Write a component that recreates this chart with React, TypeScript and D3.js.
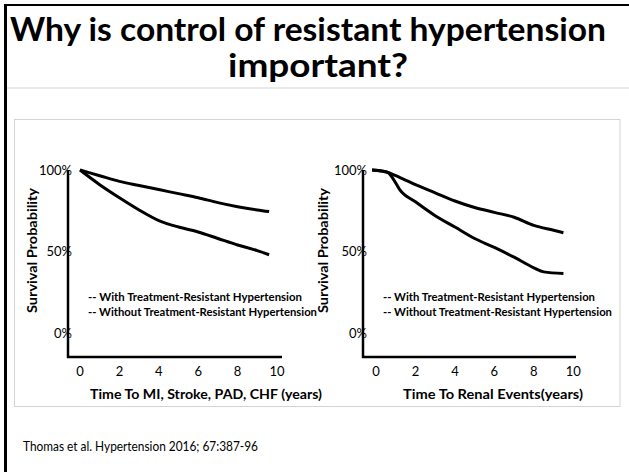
import React from "react";
import * as d3 from "d3";

const W = 629;
const H = 472;

// Data
const xTicks = [0, 2, 4, 6, 8, 10];
const yTicks = [0, 50, 100];

const leftYearsWithout = [0, 1, 2, 3, 4, 5, 6, 7, 8, 9, 9.6];
const leftWithout = [100, 96.5, 93, 90.5, 88, 85.5, 83, 80, 77.5, 75.5, 74.5];
const leftYearsWith = [0, 1, 2, 3, 4, 5, 6, 7, 8, 9, 9.6];
const leftWith = [100, 91, 83, 75.5, 69, 65, 62, 58, 54, 50.5, 48];

const rightYearsWithout = [-0.2, 0.5, 1, 2, 3, 4, 5, 6, 7, 8, 9, 9.5];
const rightWithout = [100, 99, 96.5, 91, 86, 81, 77, 74, 71, 66, 63, 61.5];
const rightYearsWith = [-0.2, 0.6, 0.9, 1.2, 2, 3, 4, 5, 6, 7, 8, 8.5, 9.5];
const rightWith = [100, 98.5, 94, 88, 80.5, 72, 65, 58, 52.5, 46.5, 40, 37.5, 36.5];

const legendLabels = [
  "-- With Treatment-Resistant Hypertension",
  "-- Without Treatment-Resistant Hypertension",
];
const yLabel = "Survival Probability";
const titleLines = ["Why is control of resistant hypertension", "important?"];
const citation = "Thomas et al. Hypertension 2016; 67:387-96";

const FONT = "Lato, 'Open Sans', sans-serif";

type PanelProps = {
  axisX: number;
  x0: number;
  x10: number;
  axisRight: number;
  series: { years: number[]; values: number[] }[];
  yLabelX: number;
  legendX: number;
  legendWidths: number[];
  xTitle: string;
  xTitleX: number;
  xTitleW: number;
};

function Panel(p: PanelProps) {
  const x = d3.scaleLinear().domain([0, 10]).range([p.x0, p.x10]);
  const y = d3.scaleLinear().domain([0, 100]).range([333, 170]);
  const axisTop = 170;
  const axisBottom = 357;
  const line = d3
    .line<[number, number]>()
    .x((d) => x(d[0]))
    .y((d) => y(d[1]))
    .curve(d3.curveMonotoneX);
  return (
    <g>
      {p.series.map((s, i) => (
        <path
          key={i}
          d={line(s.years.map((yr, j) => [yr, s.values[j]]) as [number, number][]) || ""}
          fill="none"
          stroke="#000"
          strokeWidth={3}
          strokeLinecap="butt"
        />
      ))}
      <line x1={p.axisX} x2={p.axisX} y1={axisTop} y2={axisBottom + 1} stroke="#000" strokeWidth={2.5} />
      <line x1={p.axisX - 1} x2={p.axisRight} y1={axisBottom} y2={axisBottom} stroke="#000" strokeWidth={2.5} />
      {yTicks.map((t) => (
        <text
          key={t}
          x={p.axisX + 4}
          y={y(t)}
          dy="0.35em"
          textAnchor="end"
          fontSize={13}
          fontFamily={FONT}
          fill="#000"
        >
          {t + "%"}
        </text>
      ))}
      {xTicks.map((t) => (
        <text
          key={t}
          x={x(t)}
          y={371}
          dy="0.35em"
          textAnchor="middle"
          fontSize={13}
          fontFamily={FONT}
          fill="#000"
        >
          {t}
        </text>
      ))}
      <text
        transform={`translate(${p.yLabelX},${250.5}) rotate(-90)`}
        textAnchor="middle"
        dy="0.35em"
        fontSize={13}
        fontWeight="bold"
        fontFamily={FONT}
        textLength={125}
        lengthAdjust="spacingAndGlyphs"
        fill="#000"
      >
        {yLabel}
      </text>
      {legendLabels.map((l, i) => (
        <text
          key={l}
          x={p.legendX}
          y={297 + i * 15.5}
          dy="0.35em"
          fontSize={10.5}
          fontWeight="bold"
          fontFamily={FONT}
          textLength={p.legendWidths[i]}
          lengthAdjust="spacingAndGlyphs"
          fill="#000"
        >
          {l}
        </text>
      ))}
      <text
        x={p.xTitleX}
        y={395}
        dy="0.35em"
        fontSize={12.5}
        fontWeight="bold"
        fontFamily={FONT}
        textLength={p.xTitleW}
        lengthAdjust="spacingAndGlyphs"
        fill="#000"
      >
        {p.xTitle}
      </text>
    </g>
  );
}

export default function App() {
  return (
    <svg
      width={W}
      height={H}
      viewBox={`0 0 ${W} ${H}`}
      style={{ position: "absolute", left: 0, top: 0, background: "#fff" }}
    >
      <rect x={0} y={0} width={W} height={H} fill="#fff" />
      {/* frame */}
      <line x1={4} x2={W} y1={5} y2={5} stroke="#000" strokeWidth={2} />
      <line x1={5.5} x2={5.5} y1={4} y2={H} stroke="#000" strokeWidth={3} />
      <line x1={7} x2={W} y1={88} y2={88} stroke="#e2e2e2" strokeWidth={1.5} />
      <rect x={14.5} y={119.5} width={605.5} height={287} fill="none" stroke="#d4d4d4" strokeWidth={1} />

      {/* title */}
      <text
        x={10}
        y={29}
        dy="0.35em"
        fontSize={33}
        fontWeight="bold"
        fontFamily={FONT}
        textLength={596}
        lengthAdjust="spacingAndGlyphs"
        fill="#000"
      >
        {titleLines[0]}
      </text>
      <text
        x={228}
        y={65}
        dy="0.35em"
        fontSize={33}
        fontWeight="bold"
        fontFamily={FONT}
        textLength={180}
        lengthAdjust="spacingAndGlyphs"
        fill="#000"
      >
        {titleLines[1]}
      </text>

      <Panel
        axisX={68}
        x0={80}
        x10={277}
        axisRight={282}
        series={[
          { years: leftYearsWithout, values: leftWithout },
          { years: leftYearsWith, values: leftWith },
        ]}
        yLabelX={32}
        legendX={88}
        legendWidths={[214, 229]}
        xTitle="Time To MI, Stroke, PAD, CHF (years)"
        xTitleX={90}
        xTitleW={232}
      />
      <Panel
        axisX={363}
        x0={376}
        x10={573.3}
        axisRight={576}
        series={[
          { years: rightYearsWithout, values: rightWithout },
          { years: rightYearsWith, values: rightWith },
        ]}
        yLabelX={323}
        legendX={383}
        legendWidths={[212, 229]}
        xTitle="Time To Renal Events(years)"
        xTitleX={403}
        xTitleW={180}
      />

      <text
        x={23}
        y={446}
        dy="0.35em"
        fontSize={13.5}
        fontFamily={FONT}
        textLength={235}
        lengthAdjust="spacingAndGlyphs"
        fill="#000"
      >
        {citation}
      </text>
    </svg>
  );
}
